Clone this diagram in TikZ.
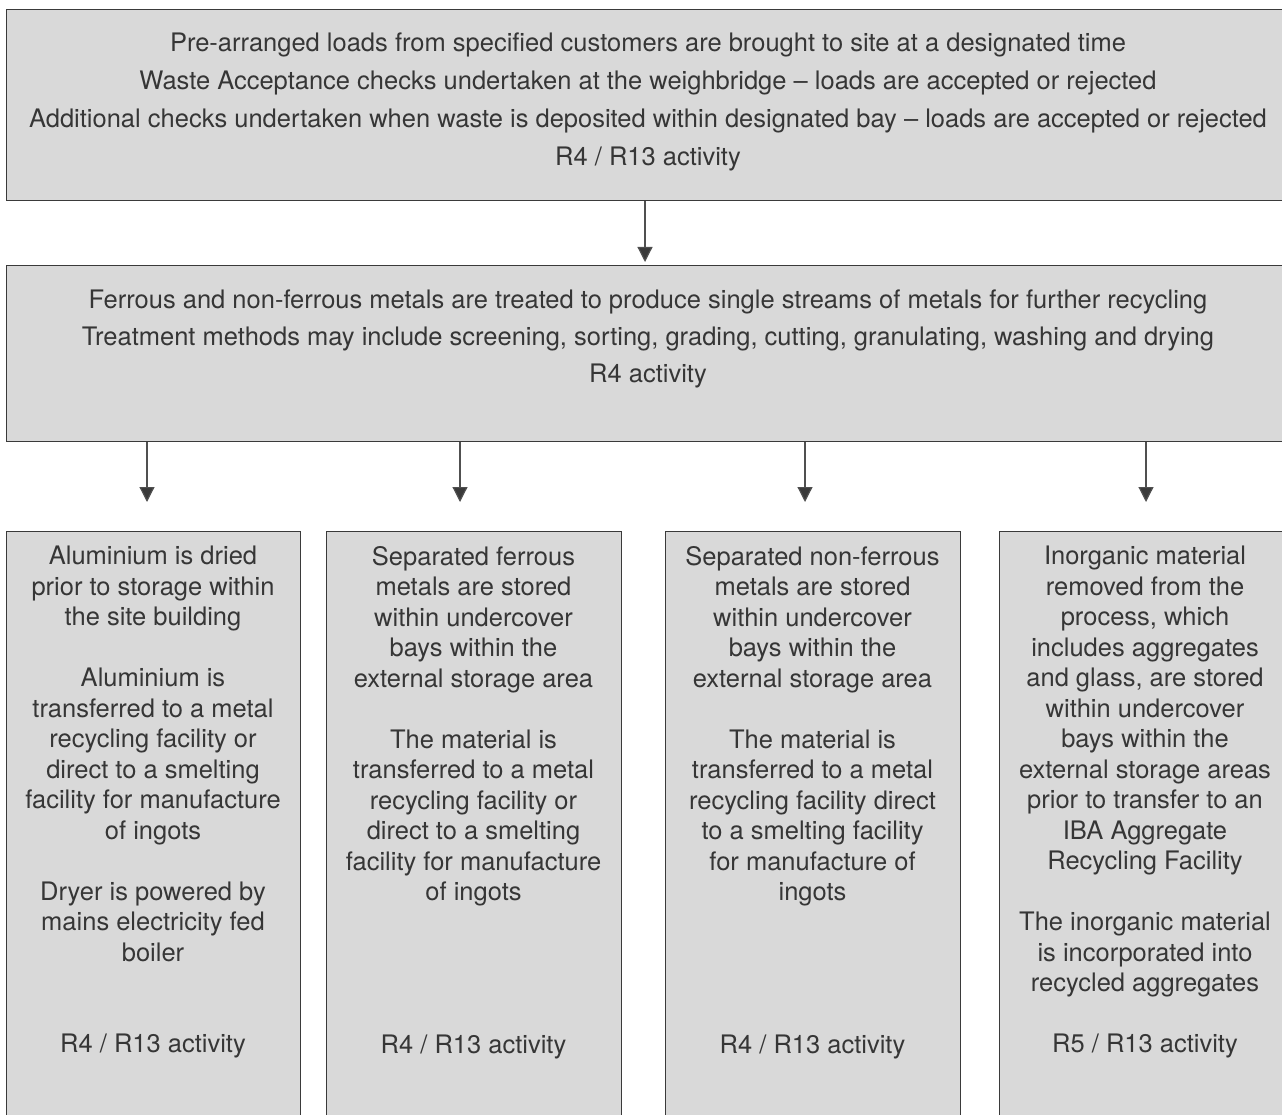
\documentclass[tikz,border=0pt]{standalone}
\usepackage{fontspec}
\setmainfont{TeX Gyre Heros}
\usetikzlibrary{arrows.meta}
\definecolor{boxfill}{HTML}{D9D9D9}
\definecolor{boxline}{HTML}{3A3A3A}
\definecolor{txt}{HTML}{363636}
\definecolor{arr}{HTML}{505050}
\tikzset{
  box/.style={draw=boxline, line width=1.4pt, fill=boxfill, inner sep=0pt, anchor=north west},
  bigtext/.style={text=txt, align=center, inner sep=0pt, anchor=north, font=\fontsize{25.5}{38}\selectfont},
  smalltext/.style={text=txt, align=center, inner sep=0pt, anchor=north, font=\fontsize{25.5}{30.5}\selectfont},
  flow/.style={draw=arr, line width=1.2pt, -{Triangle[width=15pt,length=15pt,fill=boxline]}}
}
\begin{document}
\begin{tikzpicture}[x=1pt,y=-1pt]
\useasboundingbox (0,0) rectangle (1282,1115);
\begin{scope}
\clip (0,0) rectangle (1282,1115);
\node[box, minimum width=1286pt, minimum height=191pt] (top) at (6,9) {};
\node[box, minimum width=1286pt, minimum height=176pt] (mid) at (6,265) {};
\node[box, minimum width=294pt, minimum height=620pt] (b1) at (6,531) {};
\node[box, minimum width=295pt, minimum height=620pt] (b2) at (326,531) {};
\node[box, minimum width=295pt, minimum height=620pt] (b3) at (665,531) {};
\node[box, minimum width=294pt, minimum height=620pt] (b4) at (999,531) {};
\end{scope}

\node[bigtext] (toptext) at (648,33) {Pre-arranged loads from specified customers are brought to site at a designated time\\
Waste Acceptance checks undertaken at the weighbridge -- loads are accepted or rejected\\
Additional checks undertaken when waste is deposited within designated bay -- loads are accepted or rejected\\
R4 / R13 activity};

\node[bigtext, font=\fontsize{25.5}{37}\selectfont] (midtext) at (648,290) {Ferrous and non-ferrous metals are treated to produce single streams of metals for further recycling\\
Treatment methods may include screening, sorting, grading, cutting, granulating, washing and drying\\
R4 activity};

\node[smalltext] (t1) at (153,546) {Aluminium is dried\\ prior to storage within\\ the site building\\[30.5pt]
Aluminium is\\ transferred to a metal\\ recycling facility or\\ direct to a smelting\\ facility for manufacture\\ of ingots\\[30.5pt]
Dryer is powered by\\ mains electricity fed\\ boiler\\[61pt]
R4 / R13 activity};

\node[smalltext] (t2) at (473.5,546) {Separated ferrous\\ metals are stored\\ within undercover\\ bays within the\\ external storage area\\[30.5pt]
The material is\\ transferred to a metal\\ recycling facility or\\ direct to a smelting\\ facility for manufacture\\ of ingots\\[122pt]
R4 / R13 activity};

\node[smalltext] (t3) at (812.5,546) {Separated non-ferrous\\ metals are stored\\ within undercover\\ bays within the\\ external storage area\\[30.5pt]
The material is\\ transferred to a metal\\ recycling facility direct\\ to a smelting facility\\ for manufacture of\\ ingots\\[122pt]
R4 / R13 activity};

\node[smalltext] (t4) at (1145,546) {Inorganic material\\ removed from the\\ process, which\\ includes aggregates\\ and glass, are stored\\ within undercover\\ bays within the\\ external storage areas\\ prior to transfer to an\\ IBA Aggregate\\ Recycling Facility\\[30.5pt]
The inorganic material\\ is incorporated into\\ recycled aggregates\\[30.5pt]
R5 / R13 activity};

\coordinate (a0) at (645,262);
\coordinate (a1) at (147,502);
\coordinate (a2) at (460,502);
\coordinate (a3) at (805,502);
\coordinate (a4) at (1146,502);
\draw[flow] (top.south -| a0) -- (a0);
\draw[flow] (mid.south -| a1) -- (a1);
\draw[flow] (mid.south -| a2) -- (a2);
\draw[flow] (mid.south -| a3) -- (a3);
\draw[flow] (mid.south -| a4) -- (a4);
\end{tikzpicture}
\end{document}
